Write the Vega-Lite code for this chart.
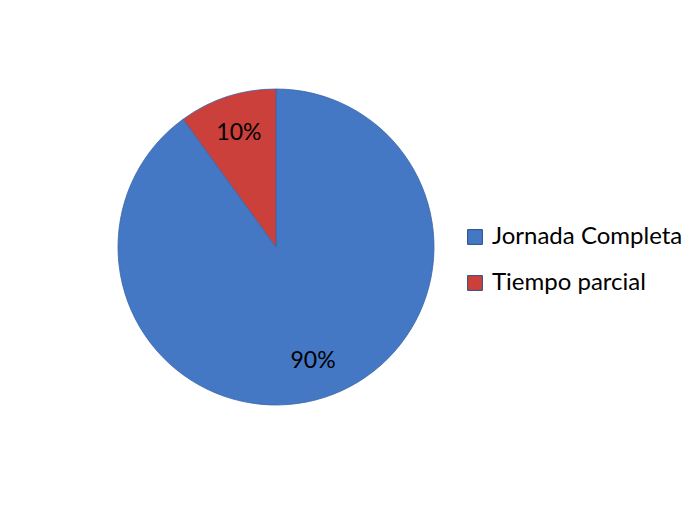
{
  "$schema": "https://vega.github.io/schema/vega-lite/v6.json",
  "width": 316,
  "height": 316,
  "autosize": {"type": "none"},
  "padding": {"left": 118, "top": 89, "right": 265, "bottom": 109},
  "background": "white",
  "config": {"view": {"stroke": null}, "font": "Lato"},
  "data": {"values": [
    {"categoria": "Jornada Completa", "valor": 90, "etiqueta": "90%"},
    {"categoria": "Tiempo parcial", "valor": 10, "etiqueta": "10%"}
  ]},
  "encoding": {
    "theta": {"field": "valor", "type": "quantitative", "stack": true},
    "color": {
      "field": "categoria",
      "type": "nominal",
      "sort": ["Jornada Completa", "Tiempo parcial"],
      "scale": {"domain": ["Jornada Completa", "Tiempo parcial"], "range": ["#4478c4", "#cc403c"]},
      "legend": {
        "title": null,
        "orient": "none",
        "legendX": 345,
        "legendY": 136,
        "symbolType": "square",
        "symbolSize": 220,
        "symbolStrokeWidth": 1,
        "symbolStrokeColor": "#2a4f85",
        "labelFont": "Lato",
        "labelFontSize": 24,
        "labelColor": "#000000",
        "labelOffset": 5,
        "rowPadding": 22,
        "labelLimit": 300
      }
    },
    "order": {"field": "valor", "sort": "descending"}
  },
  "layer": [
    {
      "mark": {"type": "arc", "outerRadius": 158, "stroke": "#3a66a8", "strokeWidth": 0.8}
    },
    {
      "mark": {"type": "text", "radius": 120, "fontSize": 23, "font": "Lato", "color": "#000000"},
      "encoding": {
        "text": {"field": "etiqueta", "type": "nominal"},
        "color": {"value": "#000000"}
      }
    }
  ]
}
